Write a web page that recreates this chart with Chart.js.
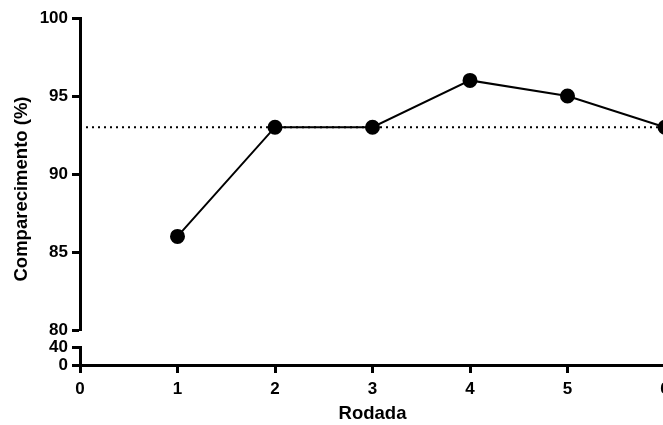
<!DOCTYPE html>
<html>
<head>
<meta charset="utf-8">
<script src="https://cdn.jsdelivr.net/npm/chart.js@4"></script>
<style>
  html, body { margin: 0; padding: 0; background: #fff; overflow: hidden; }
  #wrap { width: 720px; height: 425px; }
</style>
</head>
<body>
<div id="wrap"><canvas id="chart" width="720" height="425"></canvas></div>
<script>
// data
var rodadas = [1, 2, 3, 4, 5, 6];
var comparecimento = [86, 93, 93, 96, 95, 93];
var referencia = 93;
var xTicks = [0, 1, 2, 3, 4, 5, 6];
var yTicksTop = [80, 85, 90, 95, 100];
var yTicksBottom = [0, 40];

Chart.defaults.font.family = "'Liberation Sans', Arial, sans-serif";
Chart.defaults.font.size = 17;
Chart.defaults.font.weight = 'bold';
Chart.defaults.color = '#000';

var points = rodadas.map(function (r, i) { return { x: r, y: comparecimento[i] }; });
var refPoints = [{ x: xTicks[0], y: referencia }, { x: xTicks[xTicks.length - 1], y: referencia }];

function axisStyle() {
    return {
        border: { display: true, color: '#000', width: 3 },
        grid: { display: true, drawOnChartArea: false, drawTicks: true, tickLength: 8, tickWidth: 3, tickColor: '#000', color: '#000' }
    };
}

// y title drawn by hand so it is centred on the whole broken axis
var yTitle = {
    id: 'yTitle',
    afterDraw: function (chart) {
        var ctx = chart.ctx;
        ctx.save();
        ctx.translate(22, 189);
        ctx.rotate(-Math.PI / 2);
        ctx.font = "bold 18.5px 'Liberation Sans', Arial, sans-serif";
        ctx.fillStyle = '#000';
        ctx.textAlign = 'center';
        ctx.textBaseline = 'middle';
        ctx.fillText('Comparecimento (%)', 0, 0);
        ctx.restore();
    }
};

var yHigh = Object.assign(axisStyle(), {
    type: 'linear', position: 'left', stack: 'y', stackWeight: 312,
    min: 80, max: 100,
    afterBuildTicks: function (s) { s.ticks = yTicksTop.map(function (v) { return { value: v }; }); },
    ticks: { padding: 4, autoSkip: false },
    afterFit: function (s) { s.width = 80; }
});
var yGap = {
    type: 'linear', position: 'left', stack: 'y', stackWeight: 17,
    border: { display: false }, grid: { display: false }, ticks: { display: false },
    afterFit: function (s) { s.width = 80; }
};
var yLow = Object.assign(axisStyle(), {
    type: 'linear', position: 'left', stack: 'y', stackWeight: 18,
    min: 0, max: 40,
    afterBuildTicks: function (s) { s.ticks = yTicksBottom.map(function (v) { return { value: v }; }); },
    ticks: { padding: 4, autoSkip: false },
    afterFit: function (s) { s.width = 80; }
});
var xAxis = Object.assign(axisStyle(), {
    type: 'linear', position: 'bottom',
    min: 0, max: 6,
    afterBuildTicks: function (s) { s.ticks = xTicks.map(function (v) { return { value: v }; }); },
    ticks: { padding: 6, autoSkip: false },
    title: { display: true, text: 'Rodada', font: { size: 18.5 }, padding: { top: 5, bottom: 0 } },
    afterFit: function (s) { s.height = 60; }
});

new Chart(document.getElementById('chart'), {
    type: 'scatter',
    data: {
        datasets: [{
            data: points,
            yAxisID: 'yHigh',
            showLine: true,
            borderColor: '#000',
            borderWidth: 2,
            backgroundColor: '#000',
            pointRadius: 6.5,
            pointHoverRadius: 6.5,
            clip: false,
            order: 0
        }, {
            data: refPoints,
            yAxisID: 'yHigh',
            showLine: true,
            borderColor: '#000',
            borderWidth: 2,
            borderDash: [2, 4],
            pointRadius: 0,
            order: 1
        }]
    },
    options: {
        responsive: false,
        animation: false,
        layout: { padding: { left: 0, top: 18, right: 55, bottom: 0 } },
        plugins: { legend: { display: false }, tooltip: { enabled: false } },
        scales: {
            yLow: yLow,
            yGap: yGap,
            yHigh: yHigh,
            x: xAxis
        }
    },
    plugins: [yTitle]
});
</script>
</body>
</html>
